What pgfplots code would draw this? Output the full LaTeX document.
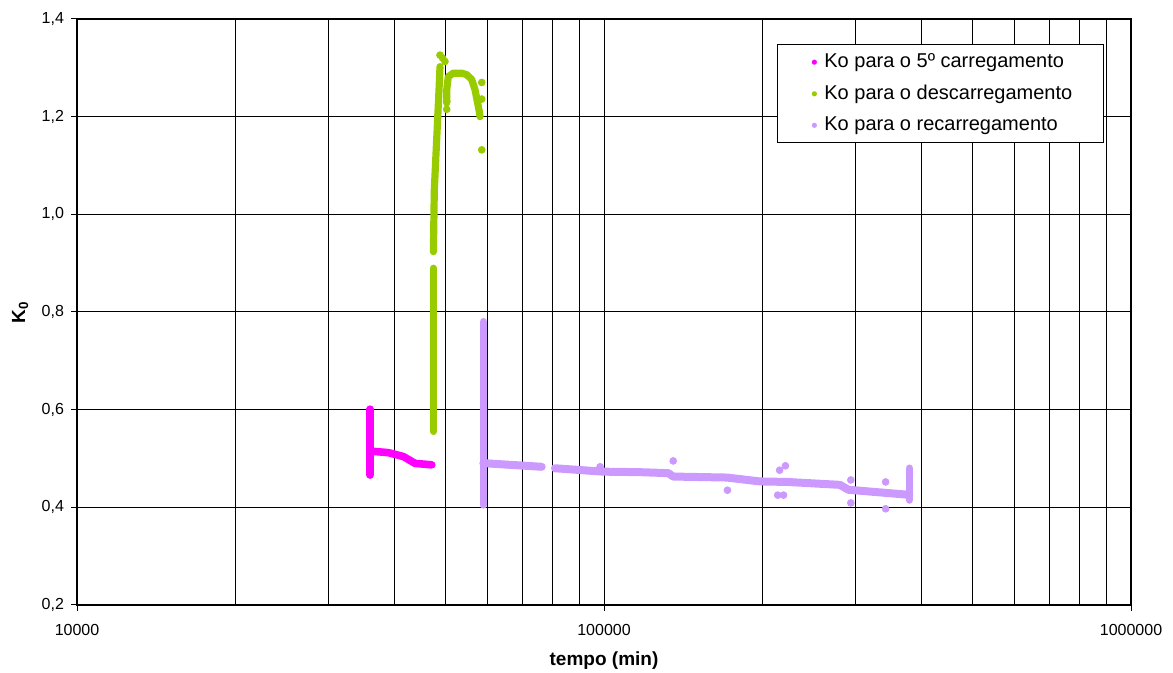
\documentclass[border=0pt]{standalone}
\usepackage{pgfplots}
\pgfplotsset{compat=1.18}
\usepackage{fontspec}
\setmainfont{Liberation Sans}
\definecolor{cmag}{HTML}{FF00FF}
\definecolor{cgreen}{HTML}{99CC00}
\definecolor{cpurp}{HTML}{CC99FF}
\begin{document}
\begin{tikzpicture}
\path[use as bounding box] (-38.5pt,-34pt) rectangle (548pt,302.5pt);
\begin{axis}[
  scale only axis, width=527pt, height=293pt,
  at={(0,0)}, anchor=south west,
  xmode=log, xmin=1e4, xmax=1e6, ymin=0.2, ymax=1.4,
  xtick={1e4,1e5,1e6}, xticklabels={10000,100000,1000000},
  ytick={0.2,0.4,0.6,0.8,1.0,1.2,1.4},
  yticklabels={{0,2},{0,4},{0,6},{0,8},{1,0},{1,2},{1,4}},
  xmajorgrids, ymajorgrids, xminorgrids,
  major grid style={black, line width=0.5pt},
  minor grid style={black, line width=0.5pt},
  axis line style={black, line width=0.6pt},
  tick pos=left, tick align=outside,
  major tick length=3pt, minor tick length=0pt,
  tick style={black, line width=0.5pt},
  tick label style={font=\fontsize{8}{9.6}\selectfont},
  xticklabel style={yshift=-3pt},
  xlabel={\textbf{tempo (min)}},
  ylabel={\textbf{K\textsubscript{0}}},
  label style={font=\fontsize{9.5}{11}\selectfont},
  xlabel style={at={(rel axis cs:0.5,0)}, anchor=center, yshift=-28pt},
  ylabel style={at={(axis description cs:-0.054,0.5)}, anchor=center},
  legend style={at={(rel axis cs:0.664,0.957)}, anchor=north west,
    draw=black, line width=0.5pt, fill=white,
    font=\fontsize{10}{12}\selectfont, row sep=3.2pt,
    inner xsep=6pt, inner ysep=2.5pt},
  legend cell align=left,
  legend image code/.code={\path[draw=none, fill=none] (0pt,-1pt) rectangle (15.5pt,1pt); \fill[#1, draw=none] (12.5pt,0pt) circle (1.3pt);},
]
\addlegendimage{color=cmag, fill=cmag}
\addlegendentry{Ko para o 5º carregamento}
\addlegendimage{color=cgreen, fill=cgreen}
\addlegendentry{Ko para o descarregamento\hspace*{7.5pt}\mbox{}}
\addlegendimage{color=cpurp, fill=cpurp}
\addlegendentry{Ko para o recarregamento}

% 5th loading (magenta)
\addplot[forget plot, cmag, line width=3.8pt, line cap=round, line join=round]
  coordinates {(36000,0.466) (36000,0.601)};
\addplot[forget plot, cmag, line width=3.8pt, line cap=round, line join=round]
  coordinates {(36000,0.515) (37050,0.514) (38970,0.512) (41620,0.504) (43790,0.490) (47120,0.487)};

% unloading (green)
\addplot[forget plot, cgreen, line width=3.4pt, line cap=round, line join=round]
  coordinates {(47450,0.555) (47450,0.890)};
\addplot[forget plot, cgreen, line width=3.6pt, line cap=round, line join=round]
  coordinates {(47450,0.9235) (47640,1.05) (48130,1.152) (48630,1.2547) (48840,1.3024)};
\addplot[forget plot, cgreen, line width=3.6pt, line cap=round, line join=round]
  coordinates {(50290,1.228) (50290,1.2547) (50640,1.282) (51760,1.289) (53700,1.289) (54880,1.286) (56100,1.276) (56920,1.255) (57500,1.231) (58000,1.210) (58180,1.200)};
\addplot[forget plot, only marks, mark=*, mark size=1.7pt, cgreen]
  coordinates {(48840,1.326) (49400,1.320) (49910,1.313) (58610,1.270) (58610,1.236) (58610,1.132) (50290,1.231) (50290,1.215)};

% reloading (purple)
\addplot[forget plot, cpurp, line width=3.8pt, line cap=round, line join=round]
  coordinates {(59020,0.405) (59020,0.780)};
\addplot[forget plot, cpurp, line width=4pt, line cap=round, line join=round]
  coordinates {(59020,0.490) (59900,0.490) (76170,0.483)};
\addplot[forget plot, cpurp, line width=4pt, line cap=round, line join=round]
  coordinates {(80720,0.480) (99700,0.473) (117000,0.472) (132430,0.470) (135340,0.463) (170970,0.461) (197700,0.453) (222200,0.452) (280400,0.446) (290800,0.436) (375300,0.426) (379600,0.426)};
\addplot[forget plot, cpurp, line width=3.8pt, line cap=round, line join=round]
  coordinates {(379600,0.415) (379600,0.480)};
\addplot[forget plot, only marks, mark=*, mark size=1.7pt, cpurp]
  coordinates {(98300,0.483) (135300,0.495) (171500,0.435) (213600,0.425) (219100,0.425) (215400,0.476) (220900,0.485) (294000,0.456) (294000,0.409) (342300,0.397) (342300,0.452)};
\end{axis}
\end{tikzpicture}
\end{document}
